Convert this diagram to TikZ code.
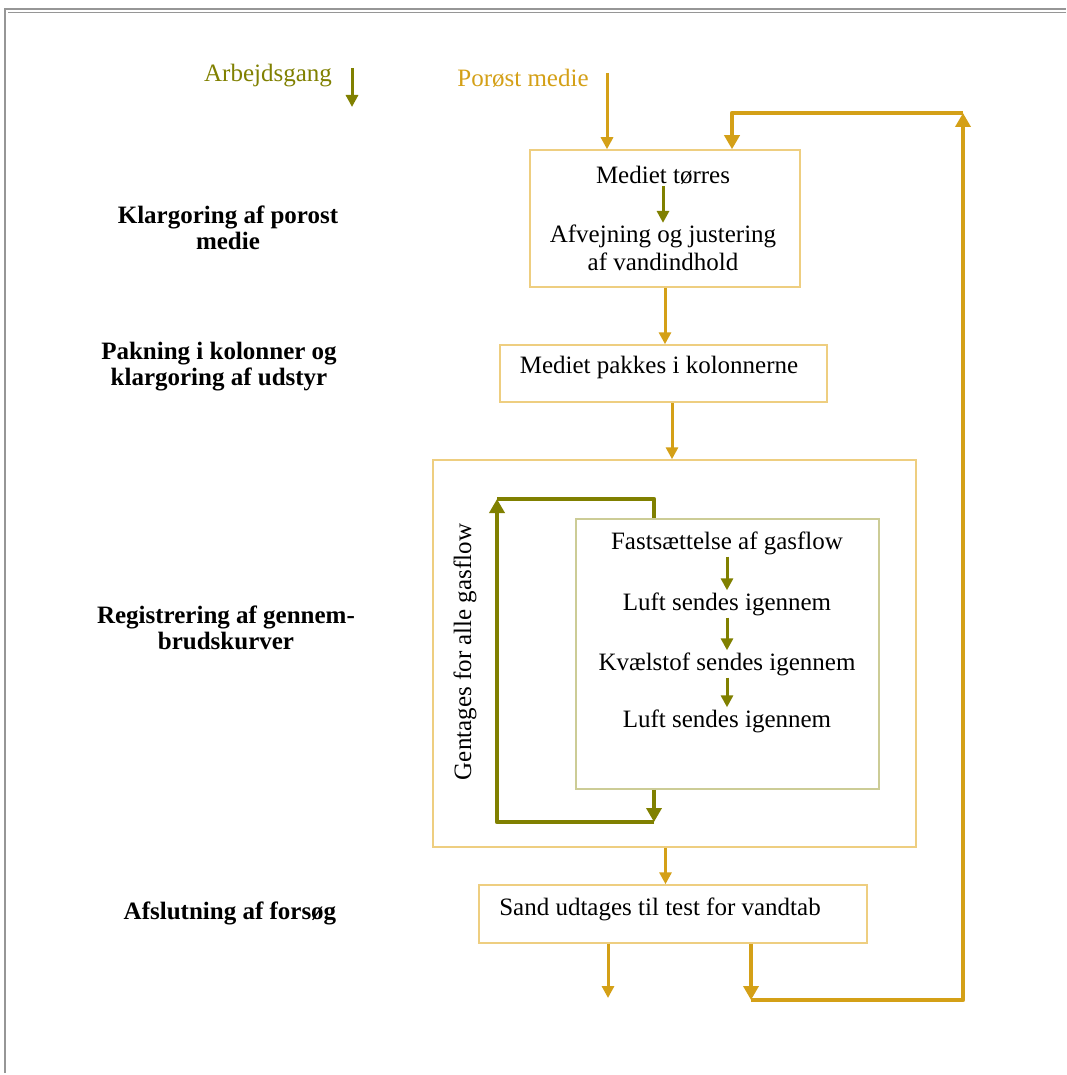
\documentclass[tikz,border=0pt]{standalone}
\usepackage{fontspec}
\setmainfont{Liberation Serif}
\usetikzlibrary{arrows.meta}

\definecolor{guld}{RGB}{212,160,23}
\definecolor{oliven}{RGB}{128,128,0}
\definecolor{lysguld}{RGB}{238,206,128}
\definecolor{lysoliven}{RGB}{204,204,150}
\definecolor{ramme}{RGB}{150,150,150}

\tikzset{
	tekst/.style={font=\fontsize{25}{28}\selectfont, inner sep=2pt, align=center},
	fed/.style={font=\fontsize{25}{26}\selectfont\bfseries, inner sep=0pt, align=center},
	kasse/.style={draw=lysguld, line width=1.5pt, inner sep=0pt},
	pil/.style={-{Triangle[width=12pt,length=12pt]}, line width=3pt},
	tykpil/.style={-{Triangle[width=15pt,length=14pt]}, line width=4.5pt, line join=round},
}

\begin{document}
\begin{tikzpicture}[x=1pt, y=-1pt]
			\useasboundingbox (0,0) rectangle (1066,1075);

			\draw[ramme, line width=2pt] (4.5,1073) -- (4.5,9.5) -- (1066,9.5);
			\draw[ramme, line width=1.2pt] (1066,12.5) -- (8,12.5);

			\node[tekst, text=oliven] (arbejd) at (268,76) {Arbejdsgang};
			\coordinate (arbA) at (352,68);
			\coordinate (arbB) at (352,107);
			\draw[pil, oliven] (arbA) -- (arbB);

			\node[tekst, text=guld] (medie) at (523,78) {Porøst medie};

			\node[kasse, minimum width=270, minimum height=137] (tor) at (665,218.5) {};
			\node[tekst] (tor1) at (663,175) {Mediet tørres};
			\node[tekst] (tor2) at (663,248) {Afvejning og justering\\af vandindhold};

			\node[kasse, minimum width=327, minimum height=57] (pak) at (663.5,373.5) {};
			\node[tekst] (pak1) at (659,367) {Mediet pakkes i kolonnerne};

			\node[kasse, minimum width=483, minimum height=387] (stor) at (674.5,653.5) {};
			\node[kasse, draw=lysoliven, minimum width=303, minimum height=270] (indre) at (727.5,654) {};
			\node[tekst] (gas1) at (727,543) {Fastsættelse af gasflow};
			\node[tekst] (gas2) at (727,604) {Luft sendes igennem};
			\node[tekst] (gas3) at (727,664) {Kvælstof sendes igennem};
			\node[tekst] (gas4) at (727,721) {Luft sendes igennem};
			\node[tekst, rotate=90] (gentag) at (465,652) {Gentages for alle gasflow};

			\node[kasse, minimum width=388, minimum height=58] (slut) at (673,914) {};
			\node[tekst] (slut1) at (660,909) {Sand udtages til test for vandtab};

			\node[fed] (trin1) at (228,228) {Klargoring af porost\\medie};
			\node[fed] (trin2) at (219,366.5) {Pakning i kolonner og\\klargoring af udstyr};
			\node[fed] (trin3) at (226,628) {Registrering af gennem-\\brudskurver};
			\node[fed] (trin4) at (230,913) {Afslutning af forsøg};

			\coordinate (medA) at (607,73);
			\draw[pil, guld] (medA) -- (medA |- tor.north);
			\draw[pil, oliven] (tor1.south) -- (tor2.north);
			\draw[pil, guld] (tor.south) -- (tor.south |- pak.north);
			\draw[pil, guld] ([xshift=8.5pt]pak.south) -- ([xshift=8.5pt]pak.south |- stor.north);

			\begin{scope}[oliven, xshift=-15pt]
				\draw[pil] (gas1.south) -- (gas2.north);
				\draw[pil] (gas2.south) -- (gas3.north);
				\draw[pil] (gas3.south) -- (gas4.north);
			\end{scope}

			\coordinate (lopNE) at (654,499);
			\coordinate (lopNW) at (497,499);
			\coordinate (lopSW) at (497,822);
			\coordinate (lopSE) at (654,822);
			\begin{scope}[oliven, tykpil]
				\draw (indre.south -| lopSE) -- (lopSE);
				\draw (lopSE) -- (lopSW) -- (lopNW);
				\draw[-] (lopNW) -- (lopNE) -- (indre.north -| lopNE);
			\end{scope}

			\draw[pil, guld] ([xshift=-9pt]stor.south) -- ([xshift=-9pt]stor.south |- slut.north);

			\coordinate (udA) at (608,998);
			\draw[pil, guld] (slut.south -| udA) -- (udA);

			\coordinate (ret1) at (751,1000);
			\coordinate (ret2) at (963,1000);
			\coordinate (ret3) at (963,113);
			\coordinate (ret4) at (732,113);
			\begin{scope}[guld, tykpil]
				\draw (slut.south -| ret1) -- (ret1);
				\draw (ret1) -- (ret2) -- (ret3);
				\draw (ret3) -- (ret4) -- (ret4 |- tor.north);
			\end{scope}
		\end{tikzpicture}
\end{document}
